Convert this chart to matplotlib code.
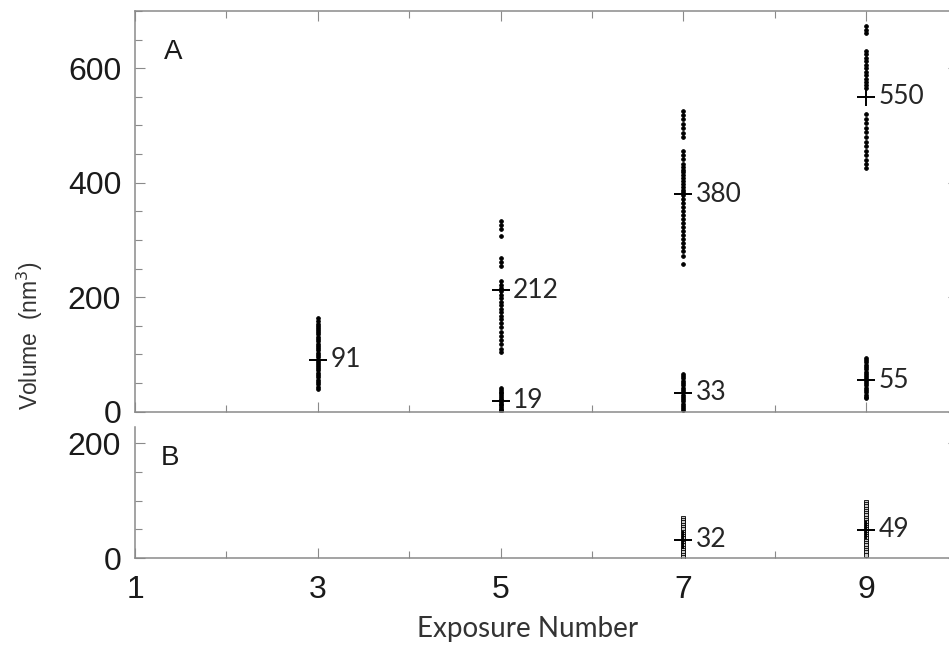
import matplotlib.pyplot as plt
from matplotlib.ticker import MultipleLocator

# panel A: volumes, one list per column
a_x3 = [163, 158, 154, 150, 147, 143, 139, 135, 131, 127, 123, 119, 115, 111, 107, 103,
        99, 95, 91, 87, 83, 79, 76, 72, 68, 64, 60, 56, 52, 48, 44, 40]
a_x5_hi = [333, 326, 319, 307, 268, 262, 255, 228, 222, 216, 210, 204, 198, 192, 186, 180,
           174, 168, 162, 155, 148, 140, 133, 126, 118, 110, 104]
a_x5_lo = [41, 38, 35, 32, 29, 26, 23, 20, 17, 14, 11, 8, 5, 3, 1]
a_x7_hi = [525, 518, 511, 503, 495, 487, 479, 455, 448, 441, 433, 428, 423, 418, 413, 408,
           403, 398, 393, 388, 383, 378, 371, 364, 357, 350, 343, 336, 329, 322, 315, 308,
           301, 294, 287, 280, 272, 258]
a_x7_lo = [66, 62, 58, 54, 50, 46, 42, 38, 34, 30, 26, 22, 18, 14, 10, 6, 3]
a_x9_hi = [673, 667, 662, 630, 624, 618, 612, 606, 600, 594, 588, 582, 576, 570, 565,
           520, 512, 504, 496, 488, 480, 472, 464, 456, 448, 440, 433, 426]
a_x9_lo = [94, 90, 86, 82, 78, 74, 70, 66, 62, 58, 54, 50, 46, 42, 38, 34, 30, 26, 24]

# panel B
b_x7 = [70, 66, 62, 58, 54, 50, 46, 42, 38, 34, 30, 26, 22, 18, 14, 10, 6, 2]
b_x9 = [98, 94, 90, 86, 82, 78, 74, 70, 66, 62, 58, 54, 50, 46, 42, 38, 34, 30, 26, 22,
        18, 14, 10, 6]

a_groups = [(3, a_x3), (5, a_x5_hi), (5, a_x5_lo), (7, a_x7_hi), (7, a_x7_lo),
            (9, a_x9_hi), (9, a_x9_lo)]
a_means = [91, 212, 19, 380, 33, 550, 55]
b_groups = [(7, b_x7), (9, b_x9)]
b_means = [32, 49]

xticks = [1, 3, 5, 7, 9]
spine_col = '#8a8a8a'
label_font = 'Lato'

fig = plt.figure(figsize=(9.49, 6.46), dpi=100)
axA = fig.add_axes([0.1423, 0.3627, 0.8668, 0.6203])
axB = fig.add_axes([0.1423, 0.1362, 0.8668, 0.2028])


def style(ax, ymax, show_top):
    ax.set_xlim(1, 10)
    ax.set_ylim(0, ymax)
    ax.xaxis.set_major_locator(plt.FixedLocator(xticks))
    ax.xaxis.set_minor_locator(MultipleLocator(1))
    ax.yaxis.set_major_locator(MultipleLocator(200))
    ax.yaxis.set_minor_locator(MultipleLocator(50))
    for s in ax.spines.values():
        s.set_color(spine_col)
        s.set_linewidth(1.1)
    ax.spines['top'].set_visible(show_top)
    ax.tick_params(which='both', direction='in', color=spine_col, width=0.8,
                   top=show_top, right=True, labelsize=23, labelcolor='#1a1a1a')
    ax.tick_params(which='major', length=7)
    ax.tick_params(which='minor', length=5)
    ax.tick_params(axis='y', which='major', pad=10)
    ax.tick_params(axis='x', which='major', pad=12)
    for lab in ax.get_xticklabels() + ax.get_yticklabels():
        lab.set_fontfamily('Liberation Sans')


def draw(ax, groups, means, mk, mfc, ms):
    for (x, vals), m in zip(groups, means):
        ax.plot([x] * len(vals), vals, ls='none', marker=mk, ms=ms, mfc=mfc,
                mec='black', mew=0.6, zorder=2)
        ax.plot([x], [m], ls='none', marker='+', ms=13, mew=1.4, color='black', zorder=3)
        ax.annotate(str(m), (x, m), xytext=(9, 0), textcoords='offset points',
                    va='center', ha='left', fontsize=19, fontfamily=label_font,
                    color='#262626')


style(axA, 700, True)
style(axB, 228, False)
axA.tick_params(labelbottom=False)

draw(axA, a_groups, a_means, 'o', 'black', 2.7)
draw(axB, b_groups, b_means, 's', '#c8c8c8', 3.4)

axA.text(0.046, 0.898, 'A', transform=axA.transAxes, fontsize=20,
         fontfamily='Liberation Sans', color='#1a1a1a', va='center', ha='center')
axB.text(0.043, 0.76, 'B', transform=axB.transAxes, fontsize=20,
         fontfamily='Liberation Sans', color='#1a1a1a', va='center', ha='center')

fig.text(0.031, 0.48, 'Volume  (nm$^3$)', rotation=90, va='center', ha='center',
         fontsize=16.5, fontfamily='Liberation Sans', color='#333333')
fig.text(0.556, 0.026, 'Exposure Number', va='center', ha='center',
         fontsize=20, fontfamily=label_font, color='#333333')

fig.savefig('out.png', dpi=100)
